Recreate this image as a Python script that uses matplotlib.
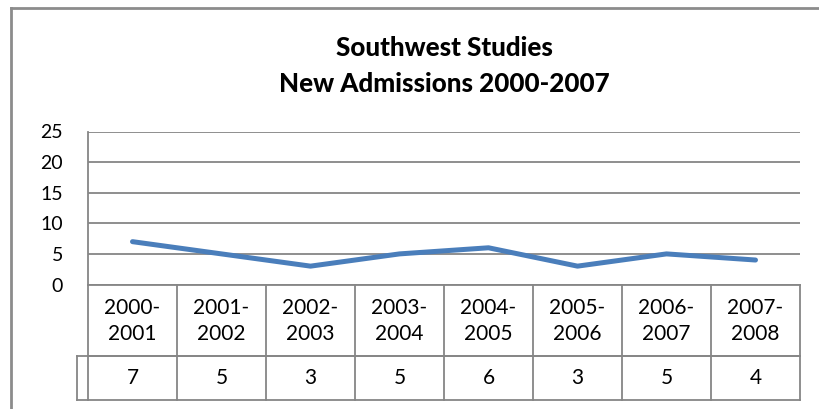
import matplotlib
matplotlib.use("Agg")
import matplotlib.pyplot as plt
from matplotlib.lines import Line2D

plt.rcParams['font.family'] = ['Lato', 'DejaVu Sans']

categories = ["2000-\n2001", "2001-\n2002", "2002-\n2003", "2003-\n2004",
              "2004-\n2005", "2005-\n2006", "2006-\n2007", "2007-\n2008"]
values = [7, 5, 3, 5, 6, 3, 5, 4]
yticks = [0, 5, 10, 15, 20, 25]
title = "Southwest Studies\nNew Admissions 2000-2007"

W, H = 819, 409
fig = plt.figure(figsize=(W / 100, H / 100), dpi=100)

def fx(px):
    return px / W

def fy(py):
    return 1 - py / H

grid_c = "#868686"
line_c = "#4A7EBB"

# outer chart frame (left and top only visible)
fig.add_artist(Line2D([fx(11), fx(11)], [fy(8), fy(409)], color="#8c8c8c", lw=2))
fig.add_artist(Line2D([fx(11), fx(819)], [fy(8), fy(8)], color="#8c8c8c", lw=2))

L, R, T, B = 88, 800, 131.5, 284.5
ax = fig.add_axes([fx(L), fy(B), fx(R) - fx(L), fy(T) - fy(B)])
n = len(values)
x = list(range(n))
ax.plot(x, values, color=line_c, lw=3.6, solid_capstyle="round", zorder=3)
ax.set_xlim(-0.5, n - 0.5)
ax.set_ylim(0, 25)
ax.set_yticks(yticks)
ax.set_yticklabels([str(t) for t in yticks])
ax.tick_params(axis="y", length=0, pad=18, labelsize=14)
ax.set_xticks([])
for s in ["top", "right", "bottom"]:
    ax.spines[s].set_visible(False)
ax.spines["left"].set_color(grid_c)
ax.spines["left"].set_linewidth(1.3)
ax.yaxis.grid(True, color=grid_c, lw=1.3)
ax.set_axisbelow(True)

# data table below
tb_top, tb_mid, tb_bot = 284.5, 356, 400
tax = fig.add_axes([fx(L), fy(tb_bot), fx(R) - fx(L), fy(tb_top) - fy(tb_bot)])
tax.set_xlim(-0.5, n - 0.5)
tax.set_ylim(tb_bot, tb_top)
tax.axis("off")
kw = dict(color=grid_c, lw=1.3, clip_on=False)
for i in range(n + 1):
    tax.plot([i - 0.5, i - 0.5], [tb_top, tb_bot], **kw)
tax.plot([-0.5, n - 0.5], [tb_top, tb_top], **kw)
tax.plot([-0.5, n - 0.5], [tb_mid, tb_mid], **kw)
key_l = -0.5 - 11 / 89
tax.plot([key_l, n - 0.5], [tb_mid, tb_mid], **kw)
tax.plot([key_l, n - 0.5], [tb_bot, tb_bot], **kw)
tax.plot([key_l, key_l], [tb_mid, tb_bot], **kw)
for i, (c, v) in enumerate(zip(categories, values)):
    tax.text(i, (tb_top + tb_mid) / 2 + 1, c, ha="center", va="center",
             fontsize=15, linespacing=1.4)
    tax.text(i, (tb_mid + tb_bot) / 2, str(v), ha="center", va="center",
             fontsize=15)

fig.text(fx(444), fy(65.5), title, ha="center", va="center", fontsize=18.7,
         fontweight="black", linespacing=1.6)

fig.savefig("out.png", dpi=100, facecolor="white")
